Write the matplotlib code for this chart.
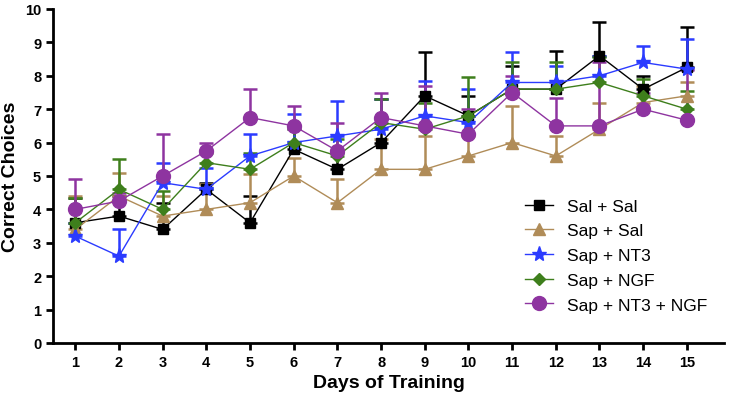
import matplotlib.pyplot as plt
import numpy as np

plt.rcParams['font.family'] = ['Liberation Sans', 'DejaVu Sans']

days = list(range(1, 16))

# group means
sal_sal = [3.6, 3.8, 3.4, 4.6, 3.6, 5.8, 5.2, 6.0, 7.4, 6.8, 7.6, 7.6, 8.6, 7.6, 8.25]
sap_sal = [3.4, 4.4, 3.8, 4.0, 4.2, 5.0, 4.2, 5.2, 5.2, 5.6, 6.0, 5.6, 6.4, 7.2, 7.4]
sap_nt3 = [3.2, 2.6, 4.8, 4.6, 5.6, 6.0, 6.2, 6.4, 6.8, 6.6, 7.8, 7.8, 8.0, 8.4, 8.2]
sap_ngf = [3.6, 4.6, 4.0, 5.4, 5.2, 6.0, 5.6, 6.6, 6.4, 6.8, 7.6, 7.6, 7.8, 7.4, 7.0]
sap_both = [4.0, 4.25, 5.0, 5.75, 6.75, 6.5, 5.75, 6.75, 6.5, 6.25, 7.5, 6.5, 6.5, 7.0, 6.67]

# upper error (SEM)
sal_sal_err = [0.75, 0.6, 0.8, 0.2, 0.8, 0.6, 0.5, 1.3, 1.3, 0.6, 0.7, 1.15, 1.0, 0.4, 1.2]
sap_sal_err = [1.0, 0.7, 0.6, 0.75, 0.85, 0.55, 0.7, 0.9, 1.0, 0.6, 1.1, 0.6, 0.8, 0.5, 0.4]
sap_nt3_err = [0.4, 0.8, 0.6, 0.65, 0.65, 0.85, 1.05, 0.9, 1.05, 1.0, 0.9, 0.5, 0.6, 0.5, 0.9]
sap_ngf_err = [0.75, 0.9, 0.55, 0.3, 0.5, 0.5, 0.5, 0.7, 0.8, 1.15, 0.8, 0.8, 0.75, 0.5, 0.55]
sap_both_err = [0.9, 0.25, 1.25, 0.25, 0.85, 0.6, 0.85, 0.75, 1.2, 0.75, 0.5, 0.85, 1.9, 0.5, 1.5]

labels = ['Sal + Sal', 'Sap + Sal', 'Sap + NT3', 'Sap + NGF', 'Sap + NT3 + NGF']
means = [sal_sal, sap_sal, sap_nt3, sap_ngf, sap_both]
errs = [sal_sal_err, sap_sal_err, sap_nt3_err, sap_ngf_err, sap_both_err]
colors = ['black', '#B08C58', '#2B3BFF', '#3E7F1C', '#8E34A0']
markers = ['s', '^', '*', 'D', 'o']
msizes = [7, 8, 11, 6, 10]

fig = plt.figure(figsize=(7.29, 4.02), dpi=100)
ax = fig.add_axes([53 / 729, 1 - 344 / 402, (724 - 53) / 729, (344 - 10) / 402])

for lab, m, e, c, mk, ms in zip(labels, means, errs, colors, markers, msizes):
    m = np.array(m)
    e = np.array(e)
    ax.errorbar(days, m, yerr=[np.zeros_like(e), e], color=c, marker=mk, markersize=ms,
                linewidth=1.0, elinewidth=1.8, capsize=5, capthick=1.8, label=lab)

ax.set_xlim(0.49, 15.85)
ax.set_ylim(0, 10)
ax.set_xticks(days)
ax.set_yticks(range(0, 11))
ax.spines['top'].set_visible(False)
ax.spines['right'].set_visible(False)
for s in ['left', 'bottom']:
    ax.spines[s].set_linewidth(2)
ax.tick_params(width=2, length=5, labelsize=10.5)
for t in ax.get_xticklabels() + ax.get_yticklabels():
    t.set_fontweight('bold')

ax.set_xlabel('Days of Training', fontsize=14, fontweight='bold')
ax.set_ylabel('Correct Choices', fontsize=14, fontweight='bold')

handles, hl = ax.get_legend_handles_labels()
handles = [h[0] for h in handles]
ax.legend(handles, hl, loc='lower right', bbox_to_anchor=(0.99, 0.06), frameon=False,
          fontsize=12.5, handlelength=1.6, labelspacing=0.55, borderaxespad=0.2)

fig.savefig('out.png', dpi=100)
